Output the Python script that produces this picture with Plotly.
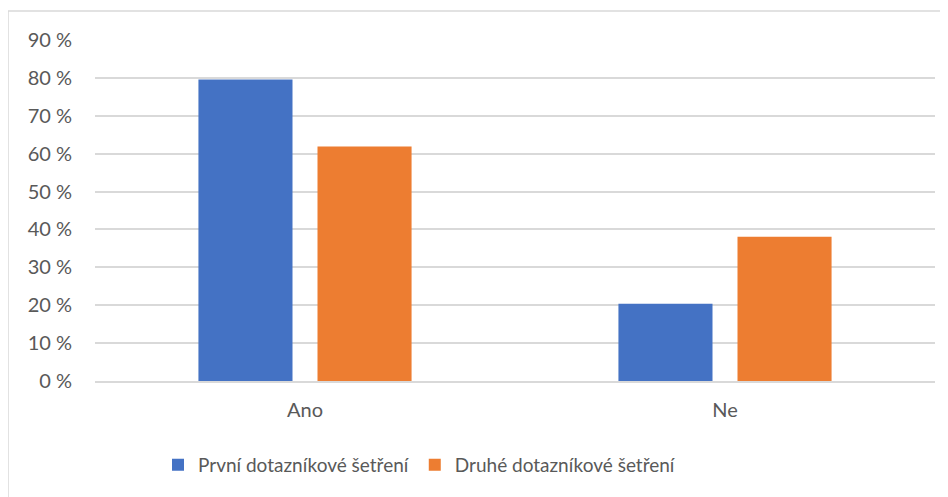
import plotly.graph_objects as go

categories = ["Ano", "Ne"]
prvni = [79.6, 20.4]
druhe = [61.9, 38.1]
series_names = ["První dotazníkové šetření", "Druhé dotazníkové šetření"]
y_tick_values = [0, 10, 20, 30, 40, 50, 60, 70, 80, 90]
y_tick_labels = ["0 %", "10 %", "20 %", "30 %", "40 %", "50 %", "60 %", "70 %", "80 %", "90 %"]

FONT = "Lato, Calibri, sans-serif"
TXT = "#595959"

fig = go.Figure()
fig.add_trace(go.Bar(x=categories, y=prvni, name=series_names[0], marker_color="#4472C4",
                     marker_line_width=0))
fig.add_trace(go.Bar(x=categories, y=druhe, name=series_names[1], marker_color="#ED7D31",
                     marker_line_width=0))

fig.update_layout(
    width=948, height=497,
    margin=dict(l=87, r=21, t=32, b=124, autoexpand=False),
    paper_bgcolor="white", plot_bgcolor="white",
    barmode="group", bargap=0.433, bargroupgap=0.21,
    font=dict(family=FONT, size=20, color=TXT),
    showlegend=True,
    legend=dict(orientation="h", x=0.075, xanchor="left", y=-0.19, yanchor="top",
                font=dict(family=FONT, size=19, color=TXT),
                itemsizing="constant", bgcolor="rgba(0,0,0,0)"),
    xaxis=dict(showgrid=False, showline=True, linecolor="#D9D9D9", linewidth=1.5,
               ticks="", tickfont=dict(family=FONT, size=20, color=TXT),
               ticklabelstandoff=10, fixedrange=True),
    yaxis=dict(range=[0, 90], tickvals=y_tick_values, ticktext=y_tick_labels,
               showgrid=True, gridcolor="#D9D9D9", gridwidth=1.5, zeroline=False,
               showline=False, ticks="", tickfont=dict(family=FONT, size=20, color=TXT),
               ticklabelstandoff=22, fixedrange=True),
    shapes=[dict(type="rect", xref="paper", yref="paper",
                 x0=(8 - 95) / 840, x1=1.05, y0=-0.5, y1=(381 - 11) / 341,
                 line=dict(color="#D9D9D9", width=1.5), fillcolor="rgba(0,0,0,0)",
                 layer="below")],
)

fig.write_html("out.html")
